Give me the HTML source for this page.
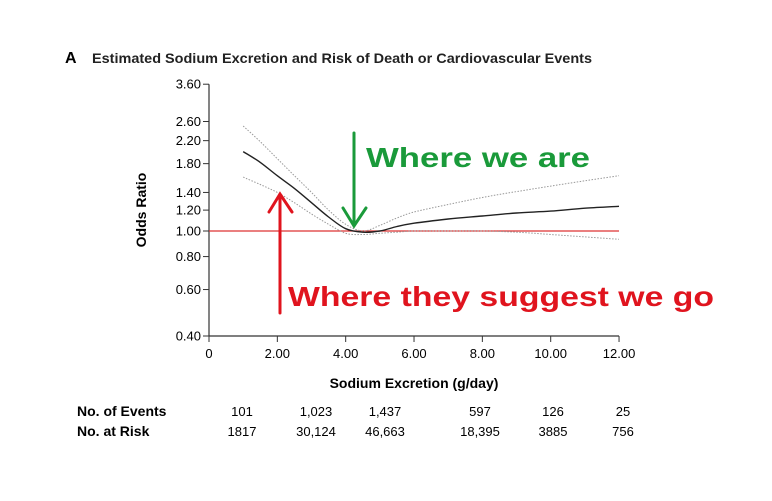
<!DOCTYPE html>
<html><head><meta charset="utf-8"><style>
body{margin:0;background:#fff;width:772px;height:496px;overflow:hidden}
svg{font-family:"Liberation Sans",sans-serif}
</style></head><body>
<svg width="772" height="496" id="c">
<text x="65" y="63" font-size="16" font-weight="bold">A</text>
<text x="92" y="63" font-size="14" font-weight="bold" fill="#222" textLength="500" lengthAdjust="spacingAndGlyphs">Estimated Sodium Excretion and Risk of Death or Cardiovascular Events</text>
<text transform="translate(146,210) rotate(-90)" text-anchor="middle" font-size="14" font-weight="bold">Odds Ratio</text>
<text x="414" y="388" text-anchor="middle" font-size="14" font-weight="bold">Sodium Excretion (g/day)</text>
<g id="axes"></g><g id="marks"></g>
<g id="table"></g>
</svg>
<script>
const xTicks=[0,2,4,6,8,10,12];
const xTickLabels=["0","2.00","4.00","6.00","8.00","10.00","12.00"];
const yTicks=[0.4,0.6,0.8,1.0,1.2,1.4,1.8,2.2,2.6,3.6];
const yTickLabels=["0.40","0.60","0.80","1.00","1.20","1.40","1.80","2.20","2.60","3.60"];
const xs=[1,1.5,2,2.5,3,3.5,4,4.5,5,5.5,6,7,8,9,10,11,12];
const estimate=[2.0,1.82,1.62,1.45,1.28,1.13,1.02,0.99,1.0,1.04,1.07,1.11,1.14,1.17,1.19,1.22,1.24];
const upperCI=[2.5,2.18,1.88,1.62,1.40,1.20,1.06,1.0,1.05,1.12,1.18,1.26,1.34,1.41,1.48,1.55,1.62];
const lowerCI=[1.6,1.5,1.4,1.28,1.16,1.06,0.98,0.97,0.98,0.99,1.0,1.0,1.0,0.99,0.97,0.95,0.93];
const eventsRow=["101","1,023","1,437","597","126","25"];
const riskRow=["1817","30,124","46,663","18,395","3885","756"];
const ns="http://www.w3.org/2000/svg";
const X=v=>209+v*34.17, Y=v=>231-Math.log(v)*114.6;
function mk(t,a,p){const e=document.createElementNS(ns,t);for(const k in a)e.setAttribute(k,a[k]);p.appendChild(e);return e;}
const ax=document.getElementById('axes'),mg=document.getElementById('marks'),tb=document.getElementById('table');
let l=mk('line',{x1:209,y1:Y(3.6),x2:209,y2:Y(0.4),stroke:'#333','stroke-width':1.2},ax);

l=mk('line',{x1:209,y1:Y(0.4),x2:X(12),y2:Y(0.4),stroke:'#333','stroke-width':1.2},ax);

yTicks.forEach((v,i)=>{mk('line',{x1:203,x2:209,y1:Y(v),y2:Y(v),stroke:'#333'},ax);
 const t=mk('text',{x:201,y:Y(v)+4.5,'text-anchor':'end','font-size':13},ax);t.textContent=yTickLabels[i];
 });
xTicks.forEach((v,i)=>{mk('line',{x1:X(v),x2:X(v),y1:Y(0.4),y2:Y(0.4)+6,stroke:'#333'},ax);
 const t=mk('text',{x:X(v),y:358,'text-anchor':'middle','font-size':13},ax);t.textContent=xTickLabels[i];
 });
l=mk('line',{x1:209,x2:X(12),y1:Y(1),y2:Y(1),stroke:'#d33','stroke-width':1.2},mg);

function path(arr,attrs,name){
 const P=xs.map((x,i)=>[X(x),Y(arr[i])]);
 let d='M'+P[0][0].toFixed(1)+','+P[0][1].toFixed(1);
 for(let i=0;i<P.length-1;i++){const p0=P[Math.max(0,i-1)],p1=P[i],p2=P[i+1],p3=P[Math.min(P.length-1,i+2)];
  const c1=[p1[0]+(p2[0]-p0[0])/6,p1[1]+(p2[1]-p0[1])/6],c2=[p2[0]-(p3[0]-p1[0])/6,p2[1]-(p3[1]-p1[1])/6];
  d+='C'+c1.map(v=>v.toFixed(1))+' '+c2.map(v=>v.toFixed(1))+' '+p2.map(v=>v.toFixed(1));}
 const p=mk('path',Object.assign({d,fill:'none'},attrs),mg);}
path(upperCI,{stroke:'#999','stroke-width':1,'stroke-dasharray':'1.5,1.5'},'upper-ci-line');
path(lowerCI,{stroke:'#999','stroke-width':1,'stroke-dasharray':'1.5,1.5'},'lower-ci-line');
path(estimate,{stroke:'#222','stroke-width':1.4},'estimate-line');
let a=mk('path',{d:'M354,133 L354,224 M343,208 L354,226 L366,208',stroke:'#1a9a3a','stroke-width':3,fill:'none','stroke-linecap':'round'},mg);

let t=mk('text',{x:366,y:167,'font-size':28,'font-weight':'bold',fill:'#1a9a3a',textLength:224,lengthAdjust:'spacingAndGlyphs'},mg);t.textContent='Where we are';

a=mk('path',{d:'M280,313 L280,196 M269,212 L280,194 L292,212',stroke:'#e0141e','stroke-width':3,fill:'none','stroke-linecap':'round'},mg);

t=mk('text',{x:288,y:306,'font-size':28,'font-weight':'bold',fill:'#e0141e',textLength:426,lengthAdjust:'spacingAndGlyphs'},mg);t.textContent='Where they suggest we go';

const cols=[242,316,385,480,553,623];
t=mk('text',{x:77,y:416,'font-size':14,'font-weight':'bold'},tb);t.textContent='No. of Events';

t=mk('text',{x:77,y:436,'font-size':14,'font-weight':'bold'},tb);t.textContent='No. at Risk';

eventsRow.forEach((v,i)=>{const e=mk('text',{x:cols[i],y:416,'text-anchor':'middle','font-size':13},tb);e.textContent=v;
 });
riskRow.forEach((v,i)=>{const e=mk('text',{x:cols[i],y:436,'text-anchor':'middle','font-size':13},tb);e.textContent=v;
 });
</script>
</body></html>
